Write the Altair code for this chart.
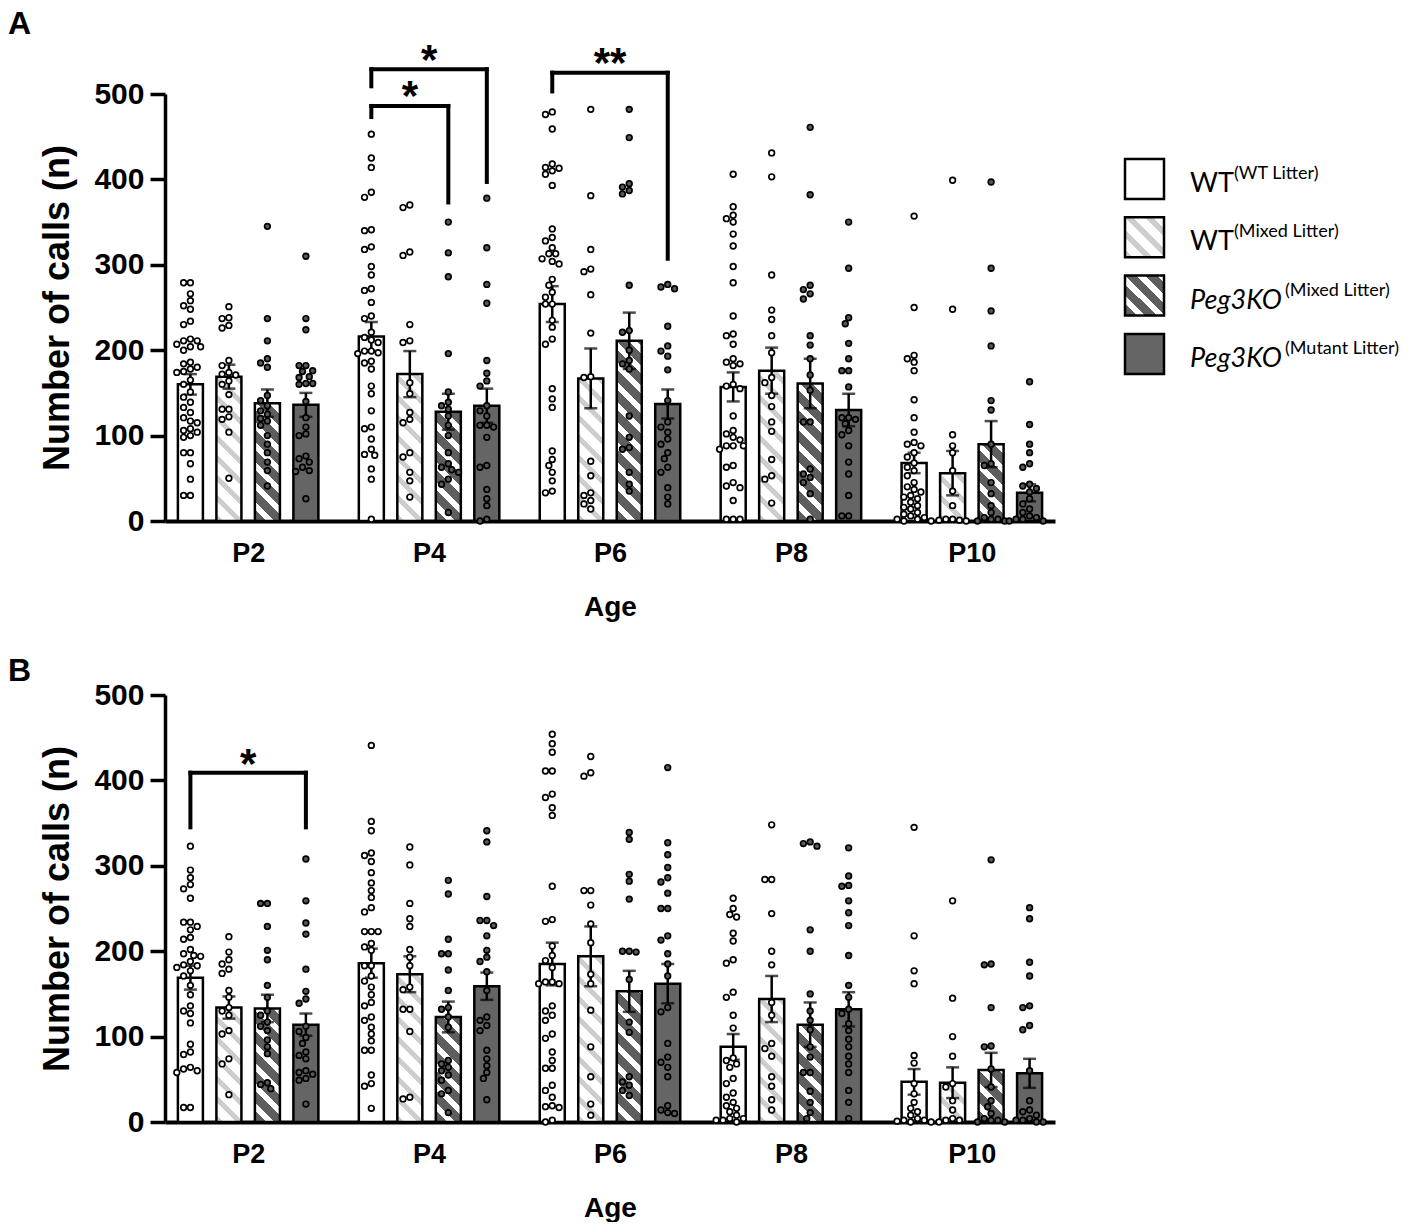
import altair as alt

AGES = ["P2", "P4", "P6", "P8", "P10"]
GROUPS = ["WT (WT Litter)", "WT (Mixed Litter)", "Peg3KO (Mixed Litter)", "Peg3KO (Mutant Litter)"]
LEG_MAIN = ["WT", "WT", "Peg3KO", "Peg3KO"]
LEG_SUP = ["(WT Litter)", "(Mixed Litter)", "(Mixed Litter)", "(Mutant Litter)"]

# ---- Panel A : mean and SEM per age (rows) and group (columns)
A_MEAN = [[160, 169, 138, 136], [216, 172, 128, 135], [254, 167, 211, 137], [157, 176, 161, 130], [68, 56, 90, 33]]
A_SEM = [[12, 14, 16, 14], [17, 27, 21, 20], [21, 35, 33, 17], [17, 27, 29, 19], [12, 26, 27, 10]]

# ---- Panel B
B_MEAN = [[169, 134, 133, 114], [186, 173, 123, 159], [185, 194, 153, 162], [88, 144, 114, 132], [47, 46, 61, 57]]
B_SEM = [[14, 13, 16, 13], [17, 21, 18, 16], [25, 35, 24, 23], [15, 27, 26, 20], [15, 18, 20, 17]]

# ---- individual animals, panel A
A_PTS = {
    "P2": [
        [279, 279, 266, 258, 252, 248, 234, 230, 213, 211, 211, 207, 204, 204, 200, 186, 184, 180, 178, 175, 174, 165,
         160, 151, 145, 139, 133, 127, 121, 117, 115, 108, 106, 104, 100, 98, 80, 80, 67, 49, 30, 30],
        [251, 238, 237, 229, 226, 188, 182, 174, 172, 171, 164, 160, 148, 131, 131, 122, 119, 104, 50],
        [345, 237, 211, 190, 185, 180, 147, 141, 135, 129, 125, 120, 117, 112, 100, 90, 80, 69, 59, 41],
        [310, 237, 224, 182, 182, 176, 175, 169, 168, 161, 161, 160, 140, 121, 110, 102, 100, 76, 73, 69, 63, 59, 58, 26],
    ],
    "P4": [
        [453, 425, 414, 385, 379, 341, 340, 321, 318, 298, 288, 272, 270, 256, 240, 237, 221, 215, 212, 209, 199, 199,
         197, 196, 187, 185, 178, 158, 149, 129, 110, 108, 96, 84, 78, 77, 61, 49, 2],
        [370, 367, 315, 311, 230, 211, 209, 162, 149, 127, 119, 115, 80, 75, 57, 47, 28],
        [350, 314, 286, 196, 151, 139, 135, 131, 123, 112, 100, 80, 67, 63, 60, 57, 49, 43, 10],
        [378, 320, 277, 255, 188, 173, 164, 158, 135, 129, 123, 112, 112, 110, 98, 65, 63, 37, 26, 18, 2, 0],
    ],
    "P6": [
        [479, 476, 459, 418, 414, 413, 410, 406, 393, 342, 332, 328, 320, 313, 313, 307, 304, 301, 283, 276, 268, 262,
         254, 254, 235, 227, 213, 207, 155, 143, 133, 82, 72, 65, 57, 47, 35, 33],
        [482, 381, 318, 295, 292, 265, 220, 169, 168, 70, 53, 33, 30, 24, 20, 14],
        [482, 449, 395, 391, 387, 383, 276, 223, 221, 200, 188, 184, 178, 123, 98, 86, 84, 57, 43, 35],
        [277, 274, 272, 228, 205, 199, 193, 177, 141, 116, 110, 104, 96, 90, 80, 73, 63, 57, 39, 28, 20],
    ],
    "P8": [
        [406, 368, 358, 354, 350, 336, 322, 298, 279, 240, 219, 217, 207, 190, 186, 184, 182, 160, 158, 155, 123, 106,
         102, 98, 95, 88, 88, 88, 84, 65, 63, 45, 41, 39, 24, 2, 2, 2],
        [431, 403, 288, 247, 236, 217, 197, 168, 162, 147, 134, 116, 105, 72, 53, 49, 21],
        [461, 382, 276, 271, 266, 260, 217, 206, 190, 171, 153, 116, 116, 61, 55, 51, 45, 32, 2],
        [350, 296, 238, 231, 208, 190, 176, 176, 157, 121, 121, 119, 114, 106, 101, 88, 69, 55, 30, 6, 6],
    ],
    "P10": [
        [357, 250, 194, 190, 186, 176, 142, 121, 104, 92, 90, 88, 80, 75, 68, 63, 59, 53, 45, 40, 37, 34, 30, 28, 26,
         22, 18, 16, 14, 10, 8, 6, 4, 2, 2, 0, 0],
        [399, 248, 101, 88, 80, 59, 35, 18, 2, 2, 1, 1, 0],
        [397, 296, 246, 205, 141, 130, 90, 67, 65, 45, 32, 18, 10, 4, 2, 2, 0, 0],
        [163, 113, 90, 80, 67, 63, 43, 41, 38, 34, 26, 20, 14, 10, 6, 4, 2, 2, 0, 0],
    ],
}

# ---- individual animals, panel B
B_PTS = {
    "P2": [
        [323, 295, 286, 278, 273, 262, 234, 234, 229, 225, 216, 214, 202, 197, 195, 194, 188, 184, 183, 181, 177, 171,
         160, 149, 136, 130, 127, 116, 91, 82, 79, 64, 62, 60, 58, 17, 17],
        [217, 199, 190, 185, 179, 174, 154, 146, 134, 130, 125, 107, 103, 74, 68, 32],
        [256, 256, 229, 201, 190, 160, 146, 130, 125, 117, 112, 107, 96, 88, 80, 46, 44, 39],
        [308, 259, 233, 220, 179, 153, 144, 139, 112, 106, 99, 92, 82, 78, 74, 60, 58, 56, 51, 49, 21],
    ],
    "P4": [
        [441, 352, 341, 315, 312, 305, 292, 280, 271, 263, 251, 246, 223, 223, 223, 209, 205, 201, 183, 183, 171, 165,
         158, 149, 140, 136, 123, 119, 111, 103, 95, 84, 84, 55, 45, 42, 16],
        [322, 301, 256, 238, 229, 202, 193, 183, 158, 155, 132, 132, 106, 29, 27],
        [283, 267, 214, 197, 197, 178, 154, 134, 132, 123, 111, 72, 68, 64, 60, 55, 49, 37, 33, 11],
        [341, 328, 264, 236, 236, 230, 218, 201, 193, 188, 176, 154, 123, 119, 113, 107, 84, 74, 66, 58, 51, 26],
    ],
    "P6": [
        [454, 443, 433, 411, 411, 384, 380, 368, 359, 276, 237, 235, 206, 195, 189, 181, 164, 164, 162, 162, 136, 130,
         125, 119, 103, 98, 82, 72, 63, 63, 43, 37, 29, 19, 18, 17, 2, 0],
        [428, 409, 405, 271, 271, 254, 232, 210, 173, 162, 131, 88, 53, 21, 8],
        [339, 331, 290, 282, 261, 200, 200, 199, 167, 117, 105, 53, 47, 43, 37, 31],
        [415, 327, 313, 298, 286, 281, 268, 250, 250, 218, 213, 197, 185, 171, 134, 129, 92, 76, 70, 64, 53, 19, 14,
         11, 10],
    ],
    "P8": [
        [262, 250, 243, 240, 221, 212, 190, 186, 152, 146, 125, 110, 75, 72, 68, 64, 51, 45, 34, 29, 23, 19, 16, 12, 8,
         4, 4, 2, 2, 0],
        [348, 284, 284, 244, 200, 184, 140, 125, 92, 86, 77, 53, 42, 26, 14],
        [328, 326, 323, 225, 200, 150, 130, 119, 108, 88, 76, 58, 58, 36, 23, 11, 4],
        [321, 288, 277, 276, 259, 245, 230, 195, 160, 146, 132, 127, 115, 107, 97, 88, 77, 68, 58, 37, 23, 4],
    ],
    "P10": [
        [345, 218, 177, 162, 78, 69, 45, 33, 23, 16, 12, 8, 4, 2, 2, 1, 0, 0],
        [259, 145, 100, 77, 45, 41, 25, 14, 4, 2, 2, 0],
        [307, 185, 184, 134, 89, 88, 62, 41, 25, 18, 10, 4, 2, 2, 0, 0],
        [251, 238, 187, 171, 136, 134, 113, 108, 60, 25, 14, 12, 8, 4, 2, 2, 0, 0],
    ],
}

# significance brackets: (age, group1, group2, bracket top, left leg end, right leg end, label, label centre)
A_SIG = [("P4", 0, 3, 529, 509, 397, "*", 550), ("P4", 0, 2, 486, 473, 373, "*", 508),
         ("P6", 0, 3, 525, 503, 307, "**", 547)]
B_SIG = [("P2", 0, 3, 409, 345, 345, "*", 430)]

# ---------------- layout / style constants ----------------
W, H = 890, 427
XMAX, YMAX = 23.12, 500
PXX, PXY = W / XMAX, H / YMAX
G_OFF, G_STEP, BAR_W = 0.66, 4.7, 0.65
FONT = "Liberation Sans"
LFONT = "Lato"
WHITE, LIGHT, DARK, SOLID = "#ffffff", "#cdcdcd", "#5e5e5e", "#656565"
POINT_FILL = [WHITE, WHITE, "#5a5a5a", "#5a5a5a"]


def center(ai, gi):
    return G_OFF + G_STEP * ai + gi


def hatch(w, h, col_a, col_b, frac_a, period=20.0):
    """diagonal (top-left to bottom-right) stripes as a linear gradient in bbox units"""
    L = w + h
    a = L / (w * w + h * h)
    stops = []
    k = 0
    while k * period < L:
        s0 = min(k * period / L, 1)
        s1 = min((k * period + frac_a * period) / L, 1)
        s2 = min((k + 1) * period / L, 1)
        stops += [{"offset": round(s0, 5), "color": col_a}, {"offset": round(s1, 5), "color": col_a},
                  {"offset": round(s1, 5), "color": col_b}, {"offset": round(s2, 5), "color": col_b}]
        k += 1
    return {"gradient": "linear", "x1": 0, "y1": 1, "x2": round(a * w, 5), "y2": round(1 - a * h, 5), "stops": stops}


def group_fill(gi, w, h):
    if gi == 0:
        return WHITE
    if gi == 1:
        return hatch(w, h, LIGHT, WHITE, 0.38)
    if gi == 2:
        return hatch(w, h, DARK, WHITE, 0.58)
    return SOLID


def swarm(vals, d=6.8):
    """simple beeswarm: horizontal pixel offsets so markers do not overlap"""
    cands = [0.0]
    for k in range(1, 12):
        cands += [-3.4 * k, 3.4 * k]
    placed = []
    offs = [0.0] * len(vals)
    for i in sorted(range(len(vals)), key=lambda j: -vals[j]):
        y = vals[i] * PXY
        for c in cands:
            if all((c - px) ** 2 + (y - py) ** 2 >= d * d for px, py in placed):
                offs[i] = c
                placed.append((c, y))
                break
    return offs


X_SCALE = alt.Scale(domain=[0, XMAX], nice=False, zero=False)
Y_SCALE = alt.Scale(domain=[0, YMAX], nice=False)
X_AX = alt.Axis(values=[center(i, 1.5) for i in range(5)],
                labelExpr="['P2','P4','P6','P8','P10'][round((datum.value - %.3f) / %.3f)]" % (center(0, 1.5), G_STEP),
                ticks=False, grid=False, domainWidth=4, domainColor="black",
                labelFont=FONT, labelFontWeight="bold", labelFontSize=27, labelColor="black", labelPadding=19,
                title="Age", titleFont=FONT, titleFontWeight="bold", titleFontSize=28, titleColor="black",
                titlePadding=27)
Y_AX = alt.Axis(values=[0, 100, 200, 300, 400, 500], grid=False, domainWidth=3.5, domainColor="black",
                tickSize=15, tickWidth=3.5, tickColor="black",
                labelFont=FONT, labelFontWeight="bold", labelFontSize=30, labelColor="black", labelPadding=6,
                title="Number of calls  (n)", titleFont=FONT, titleFontWeight="bold", titleFontSize=36,
                titleColor="black", titlePadding=17)


def make_panel(means, sems, pts, sigs, letter, letter_y, legend):
    bars, points, segs, stars = [], [], [], []
    wpx = BAR_W * PXX
    for ai, age in enumerate(AGES):
        for gi, g in enumerate(GROUPS):
            c = center(ai, gi)
            m, s = means[ai][gi], sems[ai][gi]
            bars.append({"x1": c - BAR_W / 2, "x2": c + BAR_W / 2, "xc": c, "mean": m, "lo": m - s, "hi": m + s,
                         "grp": g, "fill": group_fill(gi, wpx, m * PXY)})
            vals = pts[age][gi]
            for v, o in zip(vals, swarm(vals)):
                points.append({"x": c + o / PXX, "v": v, "grp": g})
    for age, g1, g2, top, l_end, r_end, lab, lab_y in sigs:
        ai = AGES.index(age)
        c1, c2 = center(ai, g1), center(ai, g2)
        segs += [{"x": c1, "x2": c2, "y": top, "y2": top},
                 {"x": c1, "x2": c1, "y": top, "y2": l_end},
                 {"x": c2, "x2": c2, "y": top, "y2": r_end}]
        stars.append({"x": (c1 + c2) / 2, "y": lab_y, "t": lab})

    xq = lambda f: alt.X(f, type="quantitative", scale=X_SCALE, axis=X_AX)
    yq = lambda f: alt.Y(f, type="quantitative", scale=Y_SCALE, axis=Y_AX)
    bdata = alt.Data(values=bars)

    bar = alt.Chart(bdata).mark_bar(stroke="black", strokeWidth=2.5).encode(
        x=xq("x1"), x2="x2", y=yq("mean"), y2=alt.datum(0),
        fill=alt.Fill("fill", type="nominal", scale=None))
    err = alt.Chart(bdata).mark_rule(color="black", strokeWidth=2.5).encode(x=xq("xc"), y=yq("lo"), y2="hi")
    cap_hi = alt.Chart(bdata).mark_tick(color="black", orient="horizontal", size=13, thickness=2.5).encode(
        x=xq("xc"), y=yq("hi"))
    cap_lo = alt.Chart(bdata).mark_tick(color="black", orient="horizontal", size=13, thickness=2.5).encode(
        x=xq("xc"), y=yq("lo"))
    pts_layer = alt.Chart(alt.Data(values=points)).mark_point(
        shape="circle", filled=True, size=32, stroke="black", strokeWidth=1.7, opacity=1).encode(
        x=xq("x"), y=yq("v"),
        fill=alt.Fill("grp", type="nominal", scale=alt.Scale(domain=GROUPS, range=POINT_FILL), legend=None))
    br = alt.Chart(alt.Data(values=segs)).mark_rule(color="black", strokeWidth=4, strokeCap="square").encode(
        x=xq("x"), x2="x2", y=yq("y"), y2="y2")
    st = alt.Chart(alt.Data(values=stars)).mark_text(
        font=FONT, fontWeight="bold", fontSize=42, baseline="alphabetic", dy=23, color="black").encode(
        x=xq("x"), y=yq("y"), text="t:N")
    let = alt.Chart(alt.Data(values=[{"t": letter}])).mark_text(
        font=FONT, fontWeight="bold", fontSize=32, align="left", baseline="alphabetic", color="black").encode(
        x=alt.value(-157), y=alt.value(letter_y), text="t:N")
    layers = [bar, err, cap_hi, cap_lo, pts_layer, br, st, let]

    if legend:
        for i in range(4):
            y0 = 65 + 58.3 * i
            ldata = alt.Data(values=[{"main": LEG_MAIN[i], "sup": LEG_SUP[i]}])
            layers.append(alt.Chart(ldata).mark_rect(
                fill=group_fill(i, 39, 40), stroke="black", strokeWidth=2.5).encode(
                x=alt.value(960), x2=alt.value(999), y=alt.value(y0), y2=alt.value(y0 + 40)))
            italic = "italic" if i >= 2 else "normal"
            layers.append(alt.Chart(ldata).mark_text(
                font=LFONT, fontSize=27, fontStyle=italic, align="left", baseline="alphabetic", color="black").encode(
                x=alt.value(1025), y=alt.value(y0 + 33), text="main:N"))
            layers.append(alt.Chart(ldata).mark_text(
                font=LFONT, fontSize=18, align="left", baseline="alphabetic", color="black").encode(
                x=alt.value(1069 if i < 2 else 1120), y=alt.value(y0 + 20), text="sup:N"))

    return alt.layer(*layers).properties(width=W, height=H)


panel_a = make_panel(A_MEAN, A_SEM, A_PTS, A_SIG, "A", -60, True)
panel_b = make_panel(B_MEAN, B_SEM, B_PTS, B_SIG, "B", -14, False)

chart = alt.vconcat(panel_a, panel_b, spacing=34).configure_view(stroke=None).properties(padding=0)

chart.save("out.html", embed_options={"renderer": "svg", "actions": False})
